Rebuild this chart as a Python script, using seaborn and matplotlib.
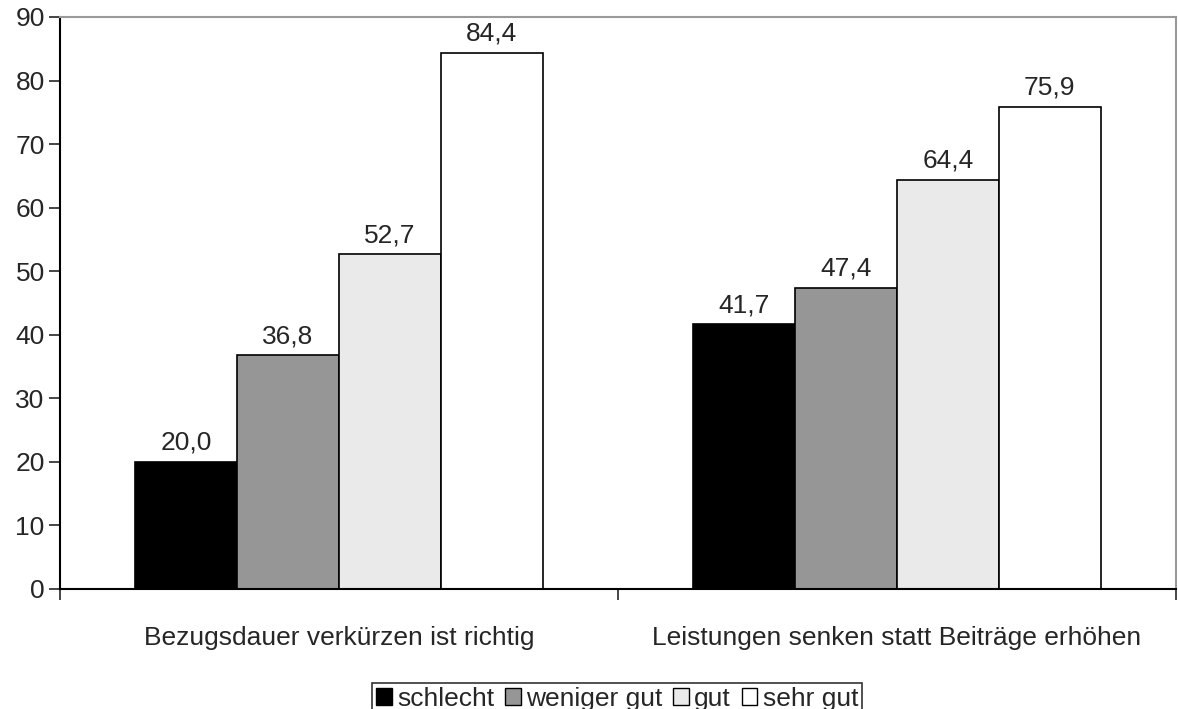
import matplotlib
matplotlib.use("Agg")
import matplotlib.pyplot as plt
import seaborn as sns
import pandas as pd
from matplotlib.ticker import FixedLocator
from matplotlib.patches import Patch

categories = ["Bezugsdauer verkürzen ist richtig", "Leistungen senken statt Beiträge erhöhen"]
groups = ["schlecht", "weniger gut", "gut", "sehr gut"]
schlecht = [20.0, 41.7]
weniger_gut = [36.8, 47.4]
gut = [52.7, 64.4]
sehr_gut = [84.4, 75.9]
colors = ["#000000", "#969696", "#eaeaea", "#ffffff"]

rows = []
for g, vals in zip(groups, [schlecht, weniger_gut, gut, sehr_gut]):
    for c, v in zip(categories, vals):
        rows.append({"cat": c, "grp": g, "val": v})
df = pd.DataFrame(rows)

sns.set_style("white")
plt.rcParams["font.family"] = ["Liberation Sans", "DejaVu Sans"]
FS = 19

fig = plt.figure(figsize=(11.78, 7.09), dpi=100)
ax = fig.add_axes([60/1178, 1-589/709, (1176-60)/1178, (589-17)/709])
sns.barplot(data=df, x="cat", y="val", hue="grp", order=categories, hue_order=groups,
            palette=colors, edgecolor="black", linewidth=1.2, width=0.73, ax=ax,
            legend=False, saturation=1)

for cont in ax.containers:
    labels = [f"{v:.1f}".replace(".", ",") for v in cont.datavalues]
    ax.bar_label(cont, labels=labels, padding=5, fontsize=FS)

ax.set_xlim(-0.5, 1.5)
ax.set_ylim(0, 90)
ax.set_yticks(range(0, 91, 10))
ax.set_xlabel("")
ax.set_ylabel("")
ax.tick_params(axis="y", labelsize=FS, length=8, width=1.2, direction="out", left=True, pad=3)
ax.tick_params(axis="x", which="major", length=0, labelsize=FS, pad=27)
ax.xaxis.set_minor_locator(FixedLocator([-0.5, 0.5, 1.5]))
ax.tick_params(axis="x", which="minor", length=8, width=1.2, direction="out", bottom=True)
for s in ["left", "bottom"]:
    ax.spines[s].set_color("black")
    ax.spines[s].set_linewidth(1.5)
for s in ["top", "right"]:
    ax.spines[s].set_color("#999999")
    ax.spines[s].set_linewidth(1.5)

handles = [Patch(facecolor=c, edgecolor="black", linewidth=1) for c in colors]
leg = fig.legend(handles, groups, loc="lower center", bbox_to_anchor=(0.524, -0.012), ncol=4,
                 frameon=True, fontsize=FS, handlelength=0.6, handleheight=0.6,
                 handletextpad=0.2, columnspacing=0.4, borderpad=0.15, fancybox=False,
                 borderaxespad=0.1)
leg.get_frame().set_edgecolor("black")
leg.get_frame().set_linewidth(1.2)

fig.savefig("out.png", dpi=100)
